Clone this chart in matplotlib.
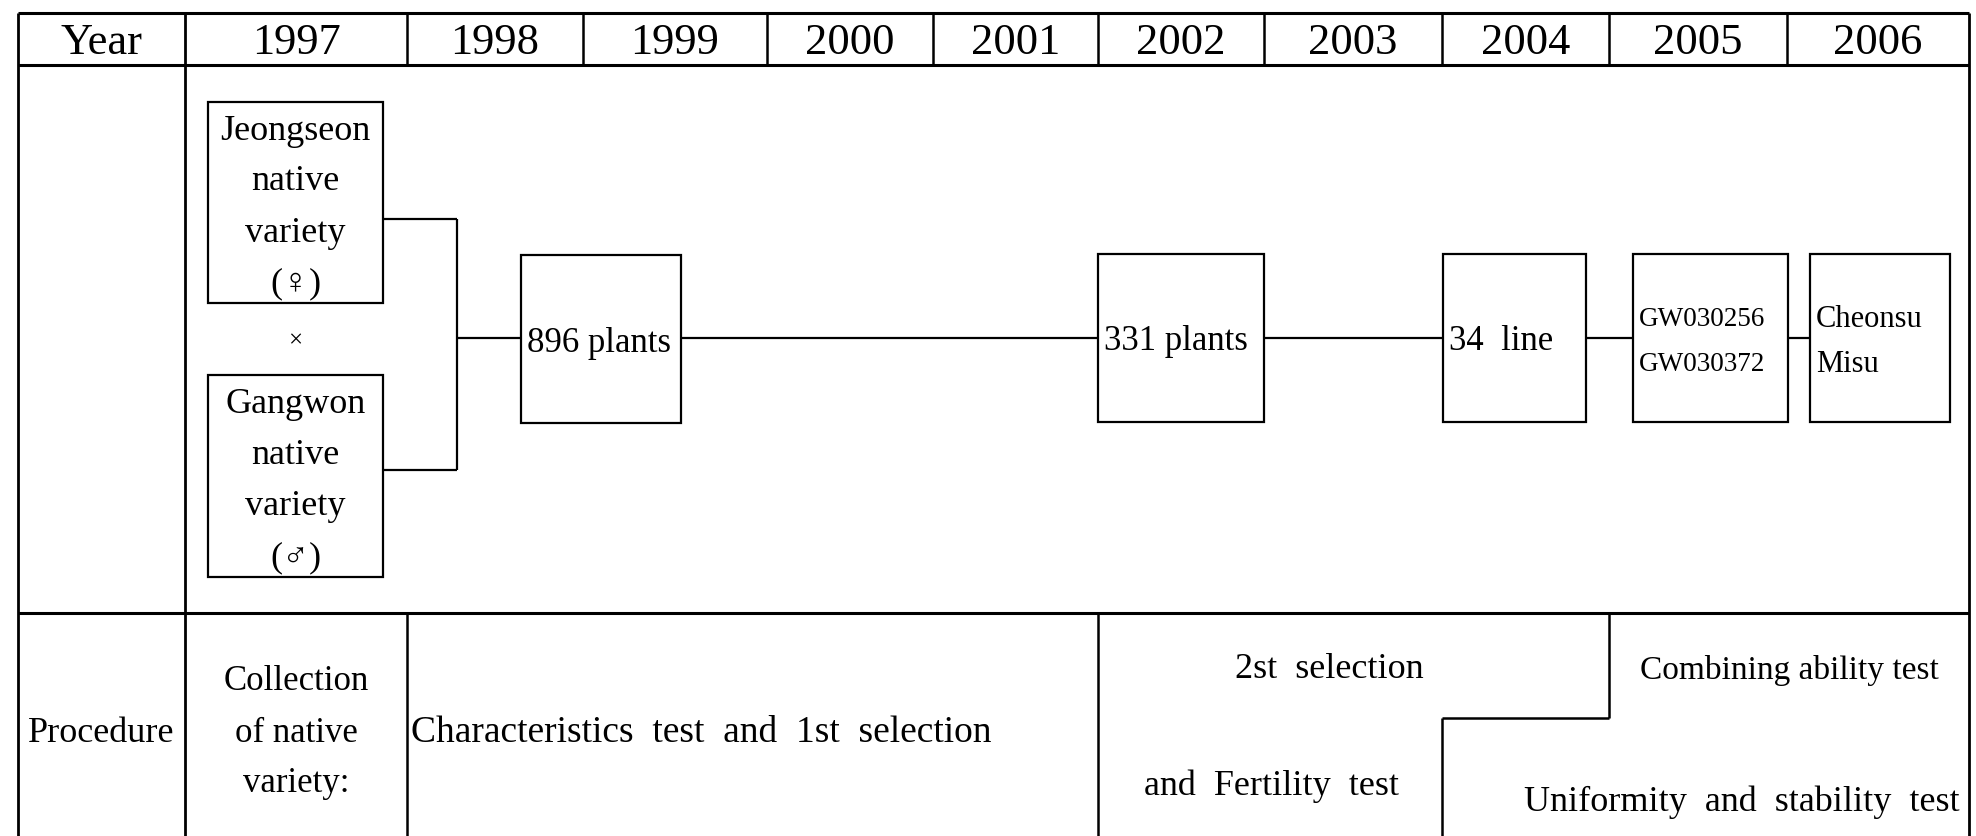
import matplotlib
matplotlib.use("Agg")
import matplotlib.pyplot as plt
from matplotlib.patches import Rectangle

plt.rcParams['font.family'] = ['Liberation Serif', 'DejaVu Sans']

# ---- content ----
years = ["1997", "1998", "1999", "2000", "2001", "2002", "2003", "2004", "2005", "2006"]
row_head = ["Year", "", "Procedure"]
parent_labels = [["Jeongseon", "native", "variety", "(\u2640)"],
                 ["Gangwon", "native", "variety", "(\u2642)"]]
stage_labels = [["896 plants"], ["331 plants"], ["34  line"],
                 ["GW030256", "GW030372"], ["Cheonsu", "Misu"]]
collection_lines = ["Collection", "of native", "variety:"]
procedure_texts = ["Characteristics  test  and  1st  selection",
                   "2st  selection", "and  Fertility  test",
                   "Combining ability test", "Uniformity  and  stability  test"]

# ---- layout (pixel space, y downward) ----
W, H = 1976, 836
col_edges = [18, 185, 407, 583, 767, 933, 1098, 1264, 1442, 1609, 1787, 1969]
y_top, y_head, y_mid, y_bot = 13, 65, 613, 836
parent_boxes = [(208, 102, 383, 303), (208, 375, 383, 577)]
stage_boxes = [(521, 255, 681, 423), (1098, 254, 1264, 422), (1443, 254, 1586, 422),
               (1633, 254, 1788, 422), (1810, 254, 1950, 422)]
stage_fs = [25, 25, 25, 19.5, 22]
chain_y = 338
DY = 4  # visual centre offset of text

fig = plt.figure(figsize=(W / 100, H / 100), dpi=100)
ax = fig.add_axes([0, 0, 1, 1])
ax.set_xlim(0, W)
ax.set_ylim(H, 0)
ax.axis('off')

LW = 1.8
def hline(y, x0, x1, lw=LW):
    ax.plot([x0, x1], [y, y], color='black', lw=lw, solid_capstyle='butt')

def vline(x, y0, y1, lw=LW):
    ax.plot([x, x], [y0, y1], color='black', lw=lw, solid_capstyle='butt')

def txt(x, y, s, fs, ha='center'):
    ax.text(x, y + DY, s, ha=ha, va='center', fontsize=fs)

def lines_text(lines, xc, yc, gap, fs, ha='center'):
    n = len(lines)
    for i, t in enumerate(lines):
        txt(xc, yc + (i - (n - 1) / 2) * gap, t, fs, ha)

# table frame
left, right = col_edges[0], col_edges[-1]
hline(y_top, left, right, 2.2)
hline(y_head, left, right, 2.2)
hline(y_mid, left, right, 2.2)
vline(left, y_top, y_bot, 2.0)
vline(right, y_top, y_bot, 2.0)
vline(col_edges[1], y_top, y_bot, 2.0)
for x in col_edges[2:-1]:
    vline(x, y_top, y_head)

# header texts
txt((col_edges[0] + col_edges[1]) / 2, 39, row_head[0], 32)
for i, yr in enumerate(years):
    txt((col_edges[i + 1] + col_edges[i + 2]) / 2, 39, yr, 32)

# parents and crossing
for (x0, y0, x1, y1), lab in zip(parent_boxes, parent_labels):
    ax.add_patch(Rectangle((x0, y0), x1 - x0, y1 - y0, fill=False, lw=1.6, ec='black'))
    lines_text(lab, (x0 + x1) / 2, (y0 + y1) / 2 + 1, 51, 26)
txt(295, 337, "\u00d7", 18)
jx = 457
hline(219, parent_boxes[0][2], jx, 1.6)
hline(470, parent_boxes[1][2], jx, 1.6)
vline(jx, 219, 470, 1.6)
hline(chain_y, jx, stage_boxes[0][0], 1.6)

# selection chain
for k, ((x0, y0, x1, y1), lab) in enumerate(zip(stage_boxes, stage_labels)):
    ax.add_patch(Rectangle((x0, y0), x1 - x0, y1 - y0, fill=False, lw=1.6, ec='black'))
    lines_text(lab, x0 + 6, (y0 + y1) / 2, 45, stage_fs[k], ha='left')
    if k + 1 < len(stage_boxes):
        hline(chain_y, x1, stage_boxes[k + 1][0], 1.6)

# procedure row
txt((col_edges[0] + col_edges[1]) / 2, 729, row_head[2], 26)
vline(col_edges[2], y_mid, y_bot)
vline(col_edges[6], y_mid, y_bot)
lines_text(collection_lines, (col_edges[1] + col_edges[2]) / 2, 729, 51, 25)
txt(col_edges[2] + 4, 729, procedure_texts[0], 27, ha='left')
step_y = 718
vline(col_edges[9], y_mid, step_y)
hline(step_y, col_edges[8], col_edges[9])
vline(col_edges[8], step_y, y_bot)
txt(1329, 666, procedure_texts[1], 26)
txt(1271, 782, procedure_texts[2], 26)
txt(1789, 666, procedure_texts[3], 24)
txt(1742, 798, procedure_texts[4], 26)

fig.savefig("out.png", dpi=100, facecolor='white')
